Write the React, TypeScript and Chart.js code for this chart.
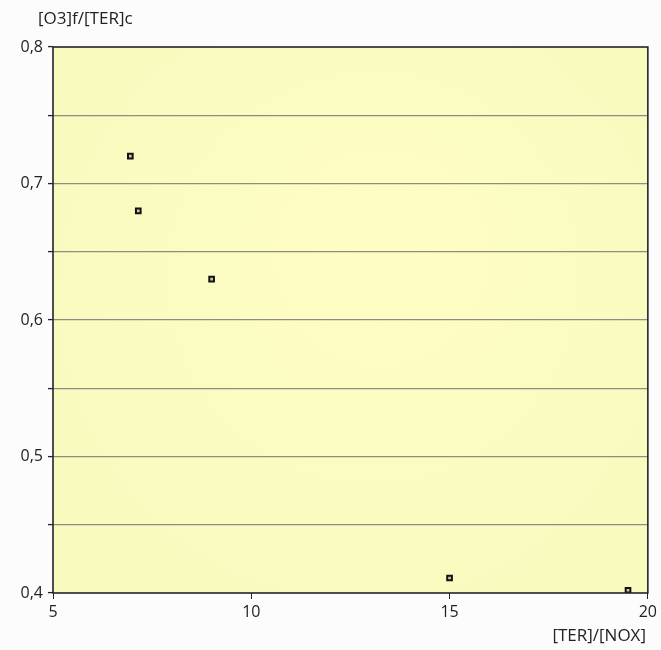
import React, { useEffect, useRef } from "react";
import { Chart, registerables } from "chart.js";

Chart.register(...registerables);

// Ratio of terpenes to NOx vs. ozone formed per terpene consumed
const terNoxRatio = [6.95, 7.15, 9.0, 15.0, 19.5];
const ozoneYield = [0.72, 0.68, 0.63, 0.411, 0.402];
const xTicks = [5, 10, 15, 20];
const yTitle = "[O3]f/[TER]c";
const xTitle = "[TER]/[NOX]";

const FONT = "'Open Sans', 'DejaVu Sans', sans-serif";

const framePlugin = {
  id: "frame",
  beforeDraw(chart: any) {
    const { ctx, chartArea: a } = chart;
    ctx.save();
    const g = ctx.createRadialGradient(
      (a.left + a.right) / 2 + 40, (a.top + a.bottom) / 2 - 80, 30,
      (a.left + a.right) / 2, (a.top + a.bottom) / 2, 420
    );
    g.addColorStop(0, "#fefec4");
    g.addColorStop(1, "#f7f9bd");
    ctx.fillStyle = g;
    ctx.fillRect(a.left, a.top, a.right - a.left, a.bottom - a.top);
    ctx.restore();
  },
  afterDraw(chart: any) {
    const { ctx, chartArea: a } = chart;
    ctx.save();
    ctx.strokeStyle = "#24242c";
    ctx.lineWidth = 1.6;
    ctx.strokeRect(a.left, a.top, a.right - a.left, a.bottom - a.top);
    ctx.fillStyle = "#222";
    ctx.font = `17px ${FONT}`;
    ctx.textBaseline = "middle";
    ctx.textAlign = "left";
    ctx.fillText(yTitle, 38, 19);
    ctx.textAlign = "right";
    ctx.fillText(xTitle, 646, 636);
    ctx.restore();
  },
};

export default function App() {
  const ref = useRef<HTMLCanvasElement>(null);

  useEffect(() => {
    if (!ref.current) return;
    const chart = new Chart(ref.current, {
      type: "scatter",
      data: {
        datasets: [
          {
            data: terNoxRatio.map((x, i) => ({ x, y: ozoneYield[i] })),
            pointStyle: "rect",
            pointRadius: 3.3,
            pointBorderWidth: 2,
            pointBorderColor: "#111",
            pointBackgroundColor: "#c9ccb0",
          },
        ],
      },
      options: {
        animation: false,
        responsive: false,
        plugins: { legend: { display: false }, tooltip: { enabled: false } },
        layout: { padding: { top: 47, right: 11, left: 0, bottom: 0 } },
        scales: {
          x: {
            type: "linear",
            min: 5,
            max: 20,
            afterBuildTicks: (s: any) => {
              s.ticks = xTicks.map((v) => ({ value: v }));
            },
            afterFit: (s: any) => {
              s.height = 650 - 593;
            },
            grid: {
              drawOnChartArea: false,
              drawTicks: true,
              tickLength: 6,
              color: "#24242c",
            },
            border: { display: false },
            ticks: {
              color: "#222",
              font: { family: FONT, size: 16 },
              padding: 4,
              maxRotation: 0,
            },
          },
          y: {
            type: "linear",
            min: 0.4,
            max: 0.8,
            afterFit: (s: any) => {
              s.width = 53;
            },
            grid: {
              color: (c: any) =>
                c.tick && (Math.abs(c.tick.value - 0.4) < 1e-6 || Math.abs(c.tick.value - 0.8) < 1e-6)
                  ? "rgba(0,0,0,0)"
                  : "#8d8d84",
              lineWidth: 1.2,
              drawTicks: true,
              tickLength: 5,
              tickColor: "#24242c",
              tickWidth: 1.3,
            },
            border: { display: false },
            ticks: {
              stepSize: 0.05,
              color: "#222",
              font: { family: FONT, size: 16 },
              padding: 5,
              callback: (v: any) => {
                const n = Math.round(Number(v) * 100);
                return n % 10 === 0 ? (n / 100).toFixed(1).replace(".", ",") : "";
              },
            },
          },
        },
      },
      plugins: [framePlugin],
    });
    return () => chart.destroy();
  }, []);

  return (
    <div style={{ position: "absolute", left: 0, top: 0, width: 661, height: 650, background: "#fcfcfc" }}>
      <canvas ref={ref} width={661} height={650} />
    </div>
  );
}
